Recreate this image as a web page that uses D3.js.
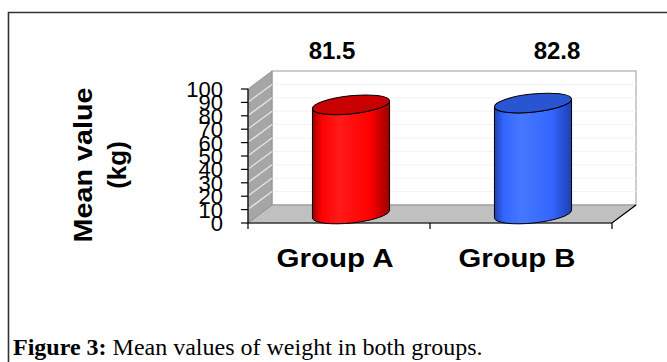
<!DOCTYPE html>
<html>
<head>
<meta charset="utf-8">
<script src="https://cdn.jsdelivr.net/npm/d3@7"></script>
<style>
  html, body { margin: 0; padding: 0; background: #fff; }
  svg { display: block; }
</style>
</head>
<body>
<svg id="chart" width="667" height="362"></svg>
<script>
// Mean weight per group
const categories = ["Group A", "Group B"];
const values = [81.5, 82.8];
const valueLabels = ["81.5", "82.8"];
const yTicks = [0, 10, 20, 30, 40, 50, 60, 70, 80, 90, 100];
const bodyColors = [
  { dark: "#9a0000", mid: "#ff0000", light: "#ff1a1a", top: "#c80000" },
  { dark: "#1f3fb0", mid: "#3366ff", light: "#4677ff", top: "#2a55d2" }
];

const svg = d3.select("#chart");

// Outer frame
svg.append("path")
  .attr("d", "M8.5,362 L8.5,12.5 L667,12.5")
  .attr("fill", "none").attr("stroke", "#333").attr("stroke-width", 1.6);

// 3D geometry: front plane scales + depth offset
const depth = { dx: 24, dy: -18 };
const x = d3.scaleBand().domain(categories).range([248, 612]).padding(0);
const y = d3.scaleLinear().domain([0, 100]).range([223, 89]);

const plot = svg.append("g");
const y0 = y(0), y100 = y(100);
const xl = x.range()[0], xr = x.range()[1];

// Back wall
plot.append("rect")
  .attr("x", xl + depth.dx).attr("y", y100 + depth.dy)
  .attr("width", xr - xl).attr("height", y0 - y100)
  .attr("fill", "#fff").attr("stroke", "#9a9a9a").attr("stroke-width", 1);

// Faint gridlines on the back wall
plot.selectAll("line.grid").data(yTicks.slice(1, -1)).join("line")
  .attr("class", "grid")
  .attr("x1", xl + depth.dx).attr("x2", xr + depth.dx)
  .attr("y1", d => y(d) + depth.dy).attr("y2", d => y(d) + depth.dy)
  .attr("stroke", "#f2f2f2").attr("stroke-width", 1);

// Left side wall
plot.append("path")
  .attr("d", `M${xl},${y100} L${xl + depth.dx},${y100 + depth.dy} L${xl + depth.dx},${y0 + depth.dy} L${xl},${y0} Z`)
  .attr("fill", "#a6a6a6").attr("stroke", "#8a8a8a").attr("stroke-width", 0.8);

// Gridlines across the side wall
plot.selectAll("line.sidegrid").data(yTicks.slice(1, -1)).join("line")
  .attr("class", "sidegrid")
  .attr("x1", xl + 1).attr("x2", xl + depth.dx)
  .attr("y1", d => y(d) - 1).attr("y2", d => y(d) + depth.dy)
  .attr("stroke", "#e6e6e6").attr("stroke-width", 1.3);

// Floor
plot.append("path")
  .attr("d", `M${xl},${y0} L${xl + depth.dx},${y0 + depth.dy} L${xr + depth.dx},${y0 + depth.dy} L${xr},${y0} Z`)
  .attr("fill", "#c0c0c0").attr("stroke", "#8a8a8a").attr("stroke-width", 0.8);

// Axis lines
plot.append("path")
  .attr("d", `M${xl},${y100} L${xl},${y0} L${xr},${y0} L${xr + depth.dx},${y0 + depth.dy}`)
  .attr("fill", "none").attr("stroke", "#000").attr("stroke-width", 1.2);

// Y ticks + labels (tightly stacked)
const yAxis = svg.append("g");
yAxis.selectAll("line").data(yTicks).join("line")
  .attr("x1", xl - 7).attr("x2", xl)
  .attr("y1", d => y(d)).attr("y2", d => y(d))
  .attr("stroke", "#000").attr("stroke-width", 1.2);
yAxis.selectAll("text").data(yTicks).join("text")
  .attr("x", 223).attr("y", d => y(d))
  .attr("dy", "0.36em")
  .attr("text-anchor", "end")
  .attr("font-family", "Arial, 'Liberation Sans', sans-serif")
  .attr("font-size", 22)
  .attr("fill", "#000")
  .text(d => d);

// Category ticks
svg.selectAll("line.xtick").data([xl, x("Group B"), xr]).join("line")
  .attr("class", "xtick")
  .attr("x1", d => d).attr("x2", d => d)
  .attr("y1", y0).attr("y2", y0 + 6)
  .attr("stroke", "#000").attr("stroke-width", 1.2);

// Cylinders
const defs = svg.append("defs");
bodyColors.forEach((c, i) => {
  const g = defs.append("linearGradient").attr("id", "cyl" + i)
    .attr("x1", "0").attr("x2", "1").attr("y1", "0").attr("y2", "0");
  g.append("stop").attr("offset", "0").attr("stop-color", c.dark);
  g.append("stop").attr("offset", "0.12").attr("stop-color", c.mid);
  g.append("stop").attr("offset", "0.35").attr("stop-color", c.light);
  g.append("stop").attr("offset", "0.75").attr("stop-color", c.mid);
  g.append("stop").attr("offset", "1").attr("stop-color", c.dark);
});

const rx = x.bandwidth() * 0.213, ry = 9, tilt = -6 * Math.PI / 180;
const cos = Math.cos(tilt), sin = Math.sin(tilt);

const bars = svg.selectAll("g.bar").data(categories.map((c, i) => ({ c, v: values[i], i }))).join("g").attr("class", "bar");
bars.append("path")
  .attr("d", d => {
    const cx = x(d.c) + x.bandwidth() / 2 + depth.dx / 2;
    const cb = y(0) + depth.dy / 2, ct = y(d.v) + depth.dy / 2;
    const ax = rx * cos, ay = rx * sin;
    const deg = tilt * 180 / Math.PI;
    return `M${cx - ax},${ct - ay} L${cx - ax},${cb - ay} A${rx},${ry} ${deg} 0 0 ${cx + ax},${cb + ay} L${cx + ax},${ct + ay} A${rx},${ry} ${deg} 0 1 ${cx - ax},${ct - ay} Z`;
  })
  .attr("fill", d => `url(#cyl${d.i})`)
  .attr("stroke", "#000").attr("stroke-width", 1);
bars.append("ellipse")
  .attr("cx", 0).attr("cy", 0).attr("rx", rx).attr("ry", ry)
  .attr("transform", d => {
    const cx = x(d.c) + x.bandwidth() / 2 + depth.dx / 2;
    const ct = y(d.v) + depth.dy / 2;
    return `translate(${cx},${ct}) rotate(${tilt * 180 / Math.PI})`;
  })
  .attr("fill", d => bodyColors[d.i].top)
  .attr("stroke", "#000").attr("stroke-width", 1);

// Value labels
const labelX = [332, 557];
svg.selectAll("text.val").data(valueLabels).join("text")
  .attr("class", "val")
  .attr("x", (d, i) => labelX[i]).attr("y", 59)
  .attr("text-anchor", "middle")
  .attr("font-family", "Arial, 'Liberation Sans', sans-serif")
  .attr("font-weight", "bold").attr("font-size", 24)
  .attr("fill", "#000")
  .text(d => d);

// Category labels
svg.selectAll("text.cat").data(categories).join("text")
  .attr("class", "cat")
  .attr("x", d => x(d) + x.bandwidth() / 2 - 4).attr("y", 267)
  .attr("text-anchor", "middle")
  .attr("font-family", "Arial, 'Liberation Sans', sans-serif")
  .attr("font-weight", "bold").attr("font-size", 26)
  .attr("textLength", 117).attr("lengthAdjust", "spacingAndGlyphs")
  .attr("fill", "#000")
  .text(d => d);

// Y axis title
const yt = svg.append("text")
  .attr("transform", "translate(92,165) rotate(-90)")
  .attr("text-anchor", "middle")
  .attr("font-family", "Arial, 'Liberation Sans', sans-serif")
  .attr("font-weight", "bold").attr("font-size", 26)
  .attr("fill", "#000");
yt.append("tspan").attr("x", 0).attr("y", 0)
  .attr("textLength", 155).attr("lengthAdjust", "spacingAndGlyphs").text("Mean value");
yt.append("tspan").attr("x", 0).attr("y", 34).text("(kg)");

// Caption
const cap = svg.append("text")
  .attr("x", 13).attr("y", 355)
  .attr("font-family", "'Times New Roman', 'Liberation Serif', serif")
  .attr("font-size", 24).attr("fill", "#000");
cap.append("tspan").attr("font-weight", "bold").text("Figure 3:");
cap.append("tspan").text(" Mean values of weight in both groups.");
</script>
</body>
</html>
